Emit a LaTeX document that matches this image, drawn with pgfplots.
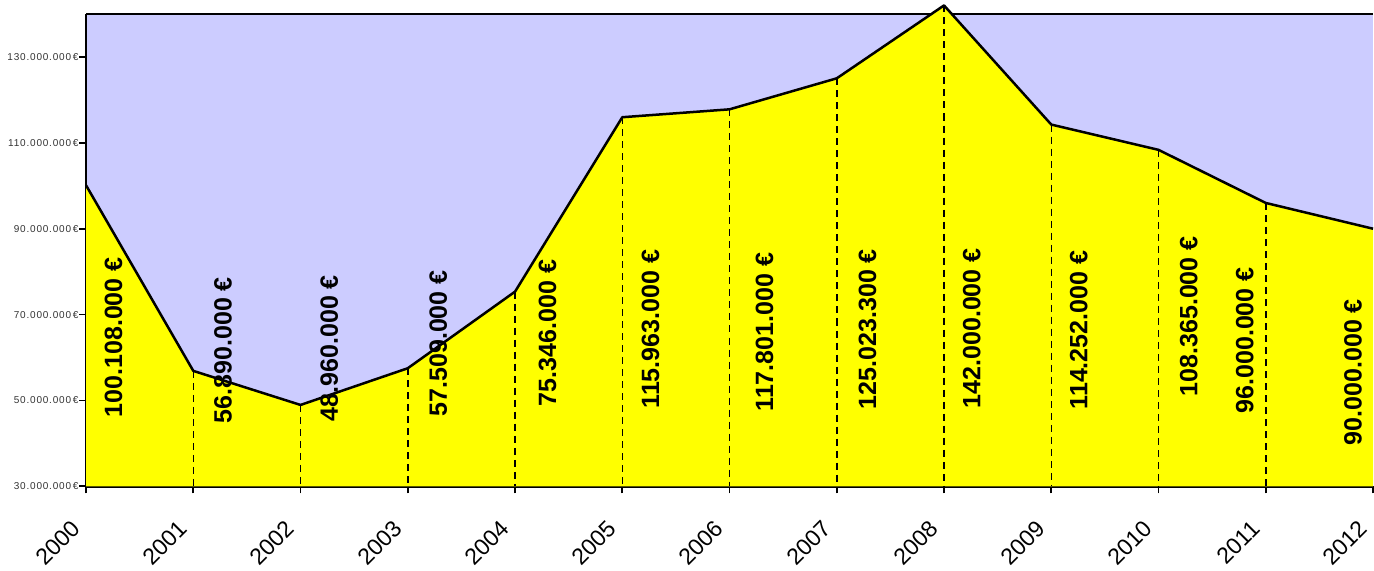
\documentclass[border=0pt]{standalone}
\usepackage{pgfplots}
\usepackage{pgfplotstable}
\pgfplotsset{compat=1.18}
\usepackage{fontspec}
\setmainfont{Liberation Sans}
\newfontfamily\tickfont[LetterSpace=8]{Liberation Sans}
\definecolor{lav}{HTML}{CCCCFF}
\definecolor{yel}{HTML}{FFFF00}
\pgfplotstableread{
x y
2000 100.108
2001 56.89
2002 48.96
2003 57.509
2004 75.346
2005 115.963
2006 117.801
2007 125.0233
2008 142
2009 114.252
2010 108.365
2011 96
2012 90
}\data
\begin{document}
\begin{tikzpicture}
\begin{axis}[
  scale only axis, width=1286pt, height=472pt,
  xmin=2000, xmax=2012, ymin=30, ymax=140,
  clip=false,
  axis background/.style={fill=lav},
  separate axis lines,
  axis x line*=box, axis y line*=left,
  every outer x axis line/.append style={line width=2.5pt, black},
  every outer y axis line/.append style={line width=2.5pt, black},
  axis line style={line width=2.5pt, black},
  tick pos=left,
  tick align=outside,
  major tick length=7pt,
  tick style={line width=1.8pt, black},
  xtick={2000,2001,...,2012},
  xticklabels={2000,2001,2002,2003,2004,2005,2006,2007,2008,2009,2010,2011,2012},
  ytick={30,50,70,90,110,130},
  yticklabels={30.000.000\,€,50.000.000\,€,70.000.000\,€,90.000.000\,€,110.000.000\,€,130.000.000\,€},
  y tick label style={font={\tickfont\fontsize{10}{12}\selectfont}, text=black!80, inner sep=0.5pt},
  x tick label style={font=\fontsize{23}{27}\selectfont, anchor=east, inner sep=0pt, xshift=-10pt, yshift=-31pt, rotate=45},
]
\addplot[fill=yel, draw=none] coordinates {(2000,30) (2000,100.108) (2001,56.89) (2002,48.96) (2003,57.509) (2004,75.346) (2005,115.963) (2006,117.801) (2007,125.0233) (2008,142) (2009,114.252) (2010,108.365) (2011,96) (2012,90) (2012,30)};
\addplot[draw=none, mark=none, skip coords between index={0}{1}, skip coords between index={12}{13},
  error bars/.cd, y dir=minus, y explicit, error mark=none,
  error bar style={black, line width=1.5pt, dash pattern=on 7pt off 5pt}]
  table[x=x, y=y, y error expr=\thisrow{y}-30] {\data};
\addplot[black, line width=2.5pt, mark=none, line join=round] table[x=x, y=y] {\data};
\begin{scope}[every node/.style={rotate=90, font=\bfseries\fontsize{25}{30}\selectfont, inner sep=0pt}]
\node at (axis cs:2000.257,64.7) {100.108.000 €};
\node at (axis cs:2001.278,61.7) {56.890.000 €};
\node at (axis cs:2002.267,62.2) {48.960.000 €};
\node at (axis cs:2003.285,63.3) {57.509.000 €};
\node at (axis cs:2004.302,65.7) {75.346.000 €};
\node at (axis cs:2005.263,66.6) {115.963.000 €};
\node at (axis cs:2006.326,65.9) {117.801.000 €};
\node at (axis cs:2007.287,66.6) {125.023.300 €};
\node at (axis cs:2008.258,66.8) {142.000.000 €};
\node at (axis cs:2009.256,66.4) {114.252.000 €};
\node at (axis cs:2010.282,69.6) {108.365.000 €};
\node at (axis cs:2010.805,64.0) {96.000.000 €};
\node at (axis cs:2011.813,56.6) {90.000.000 €};
\end{scope}
\coordinate (sw) at (rel axis cs:0,0);
\coordinate (ne) at (rel axis cs:1,1);
\end{axis}
\pgfresetboundingbox
\path[use as bounding box] ([shift={(-86pt,-84pt)}]sw) rectangle ([shift={(1pt,14pt)}]ne);
\end{tikzpicture}
\end{document}
